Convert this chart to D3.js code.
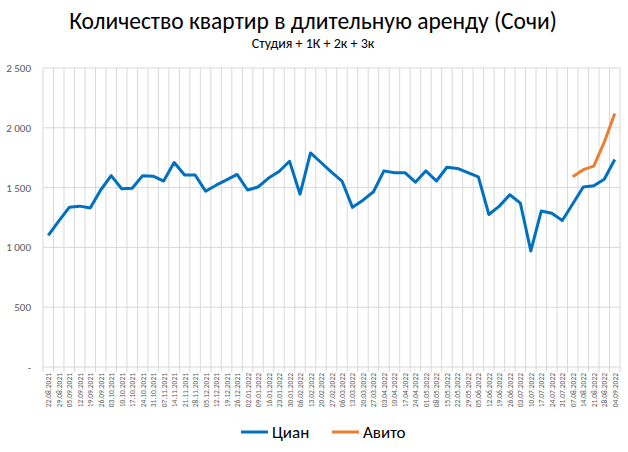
<!DOCTYPE html>
<html><head><meta charset="utf-8">
<script src="https://cdn.jsdelivr.net/npm/d3@7"></script>
<style>body{margin:0;background:#fff;font-family:Calibri,Carlito,"Liberation Sans",Arial,sans-serif}</style>
</head><body><div class="chart"></div>
<script>
const dates = ["22.08.2021","29.08.2021","05.09.2021","12.09.2021","19.09.2021","26.09.2021","03.10.2021","10.10.2021","17.10.2021","24.10.2021","31.10.2021","07.11.2021","14.11.2021","21.11.2021","28.11.2021","05.12.2021","12.12.2021","19.12.2021","26.12.2021","02.01.2022","09.01.2022","16.01.2022","23.01.2022","30.01.2022","06.02.2022","13.02.2022","20.02.2022","27.02.2022","06.03.2022","13.03.2022","20.03.2022","27.03.2022","03.04.2022","10.04.2022","17.04.2022","24.04.2022","01.05.2022","08.05.2022","15.05.2022","22.05.2022","29.05.2022","05.06.2022","12.06.2022","19.06.2022","26.06.2022","03.07.2022","10.07.2022","17.07.2022","24.07.2022","31.07.2022","07.08.2022","14.08.2022","21.08.2022","28.08.2022","04.09.2022"];
const cian = [1100,1220,1335,1345,1330,1480,1600,1490,1495,1600,1595,1555,1710,1605,1605,1470,1520,1565,1610,1480,1505,1580,1635,1720,1445,1790,1710,1630,1555,1335,1395,1465,1640,1625,1625,1545,1640,1555,1670,1660,1625,1590,1275,1345,1440,1370,970,1305,1285,1225,1365,1505,1515,1570,1735];
const avito = [null,null,null,null,null,null,null,null,null,null,null,null,null,null,null,null,null,null,null,null,null,null,null,null,null,null,null,null,null,null,null,null,null,null,null,null,null,null,null,null,null,null,null,null,null,null,null,null,null,null,1590,1650,1680,1880,2120];
const yTicks = [0,500,1000,1500,2000,2500];

const W = 628, H = 452;
const svg = d3.select(".chart").append("svg").attr("width", W).attr("height", H);
const pl = 43, pr = 620, pt = 68, pb = 367;

const x = d3.scaleBand().domain(dates).range([pl, pr]);
const xc = d => x(d) + x.bandwidth() / 2;
const y = d3.scaleLinear().domain([0, 2500]).range([pb, pt]);

svg.append("text").attr("x", 313).attr("y", 29).attr("text-anchor", "middle")
  .style("font-size", "23.5px").text("Количество квартир в длительную аренду (Сочи)");
svg.append("text").attr("x", 313).attr("y", 48).attr("text-anchor", "middle")
  .style("font-size", "14px").text("Студия + 1К + 2к + 3к");

// grid
svg.append("g").selectAll("line").data(yTicks).enter().append("line")
  .attr("x1", pl).attr("x2", pr).attr("y1", d => y(d)).attr("y2", d => y(d))
  .attr("stroke", "#d9d9d9");
svg.append("g").selectAll("line").data(dates.concat([null])).enter().append("line")
  .attr("x1", (d, i) => pl + i * x.step()).attr("x2", (d, i) => pl + i * x.step())
  .attr("y1", pt).attr("y2", pb + 5).attr("stroke", "#d9d9d9");

svg.append("g").selectAll("text").data(yTicks).enter().append("text")
  .attr("x", 31).attr("y", d => y(d) + 4).attr("text-anchor", "end")
  .style("font-size", "11px").attr("fill", "#595959")
  .text(d => d === 0 ? "-" : d3.format(",")(d).replace(",", " "));

svg.append("g").selectAll("text").data(dates).enter().append("text")
  .attr("transform", d => `translate(${xc(d) + 3},${pb + 6}) rotate(-90)`)
  .attr("text-anchor", "end").style("font-size", "7.5px").attr("fill", "#595959")
  .text(d => d);

const line = d3.line().defined(d => d[1] != null).x(d => xc(d[0])).y(d => y(d[1]));
svg.append("path").datum(dates.map((d, i) => [d, cian[i]])).attr("d", line)
  .attr("fill", "none").attr("stroke", "#0070c0").attr("stroke-width", 3).attr("stroke-linejoin", "round");
svg.append("path").datum(dates.map((d, i) => [d, avito[i]])).attr("d", line)
  .attr("fill", "none").attr("stroke", "#ed7d31").attr("stroke-width", 3).attr("stroke-linejoin", "round");

const legend = [["Циан", "#0070c0", 241], ["Авито", "#ed7d31", 332]];
legend.forEach(([t, c, lx]) => {
  svg.append("line").attr("x1", lx).attr("x2", lx + 27).attr("y1", 432).attr("y2", 432)
    .attr("stroke", c).attr("stroke-width", 3);
  svg.append("text").attr("x", lx + 31).attr("y", 438).style("font-size", "17px").text(t);
});
</script></body></html>
